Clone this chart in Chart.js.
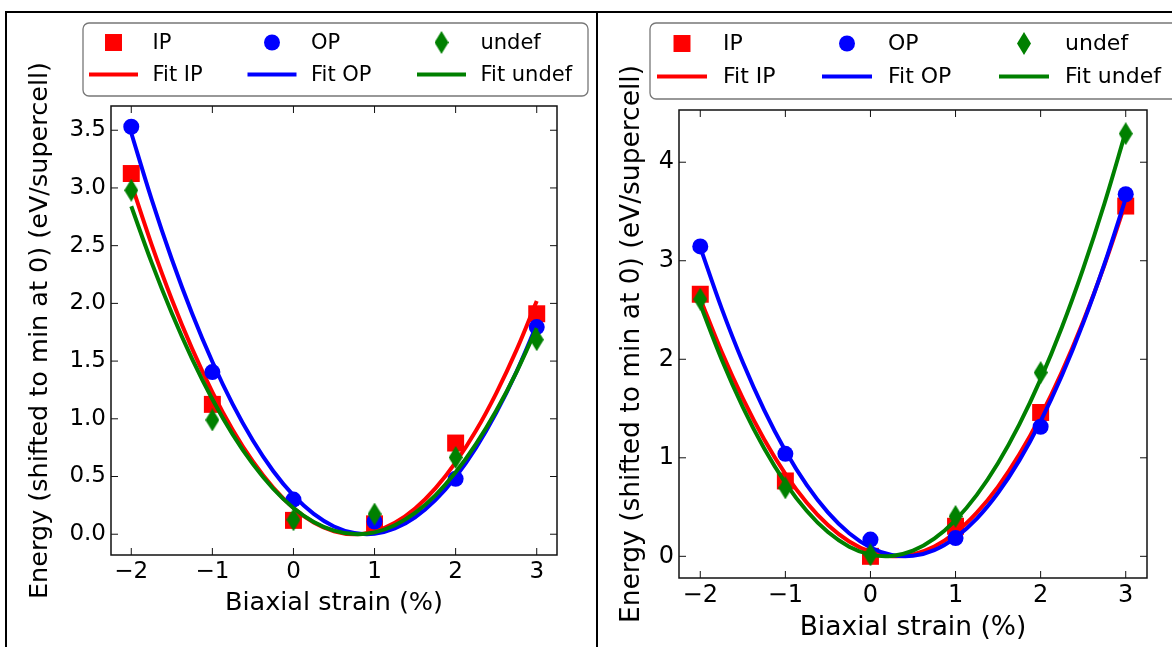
<!DOCTYPE html>
<html>
<head>
<meta charset="utf-8">
<script src="https://cdn.jsdelivr.net/npm/chart.js@4.4.1/dist/chart.umd.min.js"></script>
<style>
  html, body { margin: 0; padding: 0; background: #fff; }
  body { width: 1172px; height: 647px; position: relative; overflow: hidden; }
  .rule { position: absolute; background: #000; }
  .panel { position: absolute; top: 14px; height: 633px; }
  #left { left: 6px; width: 590px; }
  #right { left: 598px; width: 574px; }
</style>
</head>
<body>
<div class="rule" style="left:5px;top:11px;width:1167px;height:1.5px"></div>
<div class="rule" style="left:5px;top:11px;width:1.5px;height:636px"></div>
<div class="rule" style="left:596px;top:11px;width:1.5px;height:636px"></div>
<div class="panel" id="left"><canvas id="chartLeft" width="590" height="633"></canvas></div>
<div class="panel" id="right"><canvas id="chartRight" width="574" height="633"></canvas></div>
<script>
// measured points
const strain = [-2, -1, 0, 1, 2, 3];
const xTicks = [-2, -1, 0, 1, 2, 3];

const leftIP    = [3.125, 1.125, 0.12, 0.09, 0.79, 1.91];
const leftOP    = [3.53, 1.405, 0.30, 0.11, 0.48, 1.795];
const leftUndef = [2.98, 0.99, 0.125, 0.175, 0.665, 1.685];
const leftYTicks = [0, 0.5, 1, 1.5, 2, 2.5, 3, 3.5];

const rightIP    = [2.66, 0.765, 0.0, 0.305, 1.46, 3.555];
const rightOP    = [3.145, 1.04, 0.17, 0.185, 1.315, 3.675];
const rightUndef = [2.61, 0.695, 0.015, 0.405, 1.865, 4.29];
const rightYTicks = [0, 1, 2, 3, 4];

// fitted curves
const fitStrain = [-2, -1.75, -1.5, -1.25, -1, -0.75, -0.5, -0.25, 0, 0.25, 0.5,
                   0.75, 1, 1.25, 1.5, 1.75, 2, 2.25, 2.5, 2.75, 3];
const leftFitIP    = [3.037, 2.511, 2.034, 1.608, 1.232, 0.906, 0.630, 0.404, 0.228, 0.102, 0.026,
                      0.000, 0.024, 0.099, 0.223, 0.397, 0.622, 0.896, 1.221, 1.595, 2.020];
const leftFitOP    = [3.476, 2.903, 2.382, 1.912, 1.494, 1.127, 0.812, 0.548, 0.336, 0.176, 0.067,
                      0.010, 0.004, 0.050, 0.147, 0.296, 0.496, 0.748, 1.052, 1.407, 1.814];
const leftFitUndef = [2.841, 2.355, 1.914, 1.519, 1.169, 0.865, 0.607, 0.394, 0.227, 0.106, 0.031,
                      0.001, 0.016, 0.078, 0.185, 0.337, 0.536, 0.780, 1.069, 1.405, 1.786];
const rightFitIP    = [2.615, 2.078, 1.603, 1.189, 0.837, 0.546, 0.317, 0.150, 0.045, 0.001, 0.019,
                       0.099, 0.240, 0.444, 0.708, 1.035, 1.423, 1.873, 2.384, 2.957, 3.592];
const rightFitOP    = [3.136, 2.519, 1.969, 1.487, 1.072, 0.725, 0.446, 0.234, 0.090, 0.014, 0.005,
                       0.063, 0.190, 0.383, 0.645, 0.974, 1.371, 1.835, 2.367, 2.967, 3.634];
const rightFitUndef = [2.555, 2.001, 1.515, 1.097, 0.746, 0.462, 0.246, 0.098, 0.017, 0.003, 0.057,
                       0.179, 0.368, 0.624, 0.948, 1.340, 1.799, 2.325, 2.920, 3.581, 4.310];

const FONT = "'DejaVu Sans', sans-serif";
Chart.defaults.font.family = FONT;
Chart.defaults.color = '#000';

function thinDiamond(w, h, color) {
  const c = document.createElement('canvas');
  c.width = w; c.height = h;
  const g = c.getContext('2d');
  g.fillStyle = color;
  g.beginPath();
  g.moveTo(w / 2, 0); g.lineTo(w, h / 2); g.lineTo(w / 2, h); g.lineTo(0, h / 2);
  g.closePath(); g.fill();
  return c;
}
const diamond = thinDiamond(14, 23, '#008000');

function minus(v) { return v < 0 ? '\u2212' + Math.abs(v) : String(v); }

function buildDatasets(ip, op, undef, fIP, fOP, fUndef) {
  const pts = ys => strain.map((x, i) => ({ x: x, y: ys[i] }));
  const fit = ys => fitStrain.map((x, i) => ({ x: x, y: ys[i] }));
  const marker = (label, ys, color, style, r, order) => ({
    label: label, data: pts(ys), showLine: false, pointStyle: style, pointRadius: r,
    pointBackgroundColor: color, pointBorderWidth: 0, order: order
  });
  const line = (label, ys, color, order) => ({
    label: label, data: fit(ys), borderColor: color, borderWidth: 4, pointRadius: 0,
    tension: 0.35, order: order
  });
  return [
    marker('IP', ip, '#ff0000', 'rect', 12, 6),
    line('Fit IP', fIP, '#ff0000', 5),
    marker('OP', op, '#0000ff', 'circle', 8, 4),
    line('Fit OP', fOP, '#0000ff', 3),
    marker('undef', undef, '#008000', diamond, 8, 2),
    line('Fit undef', fUndef, '#008000', 1)
  ];
}

// inward ticks on all four sides and the axes frame
const frameTicks = {
  id: 'frameTicks',
  afterDraw(chart) {
    const { ctx, chartArea: { left, right, top, bottom }, scales: { x, y } } = chart;
    ctx.save();
    ctx.strokeStyle = '#111';
    ctx.lineWidth = 1;
    ctx.beginPath();
    x.ticks.forEach(t => {
      const px = x.getPixelForValue(t.value);
      ctx.moveTo(px, bottom); ctx.lineTo(px, bottom - 7);
      ctx.moveTo(px, top); ctx.lineTo(px, top + 7);
    });
    y.ticks.forEach(t => {
      const py = y.getPixelForValue(t.value);
      ctx.moveTo(left, py); ctx.lineTo(left + 7, py);
      ctx.moveTo(right, py); ctx.lineTo(right - 7, py);
    });
    ctx.stroke();
    ctx.lineWidth = 1.5;
    ctx.strokeRect(left, top, right - left, bottom - top);
    ctx.restore();
  }
};

// matplotlib-like legend: 3 columns, markers on row 1, fit lines on row 2
function makeLegend(cfg) {
  return {
    id: 'mplLegend',
    afterDraw(chart) {
      const ctx = chart.ctx;
      const [x0, y0, x1, y1] = cfg.box;
      ctx.save();
      ctx.beginPath();
      ctx.roundRect(x0, y0, x1 - x0, y1 - y0, 6);
      ctx.fillStyle = '#fff';
      ctx.fill();
      ctx.lineWidth = 1.3;
      ctx.strokeStyle = '#777';
      ctx.stroke();
      chart.data.datasets.forEach((ds, i) => {
        const cx = cfg.cols[Math.floor(i / 2)];
        const cy = cfg.rows[i % 2];
        if (ds.showLine === false) {
          const st = ds.pointStyle;
          ctx.fillStyle = ds.pointBackgroundColor;
          if (st === 'rect') {
            const s = ds.pointRadius * Math.SQRT1_2;
            ctx.fillRect(cx - s, cy - s, 2 * s, 2 * s);
          } else if (st === 'circle') {
            ctx.beginPath(); ctx.arc(cx, cy, ds.pointRadius, 0, Math.PI * 2); ctx.fill();
          } else {
            ctx.drawImage(st, cx - st.width / 2, cy - st.height / 2);
          }
        } else {
          ctx.strokeStyle = ds.borderColor;
          ctx.lineWidth = ds.borderWidth;
          ctx.beginPath();
          ctx.moveTo(cx - cfg.half, cy); ctx.lineTo(cx + cfg.half, cy);
          ctx.stroke();
        }
        ctx.fillStyle = '#000';
        ctx.font = cfg.font + 'px ' + FONT;
        ctx.textAlign = 'left';
        ctx.textBaseline = 'middle';
        ctx.fillText(ds.label, cx + cfg.textDx, cy + 1);
      });
      ctx.restore();
    }
  };
}

function makeChart(id, datasets, p) {
  return new Chart(document.getElementById(id), {
    type: 'line',
    data: { datasets: datasets },
    options: {
      responsive: false,
      animation: false,
      layout: { padding: p.padding },
      plugins: { legend: { display: false }, tooltip: { enabled: false } },
      scales: {
        x: {
          type: 'linear', min: -2.25, max: 3.25,
          afterBuildTicks: s => { s.ticks = xTicks.map(v => ({ value: v })); },
          afterFit: s => { s.height = p.xHeight; },
          grid: { display: false, drawTicks: false },
          border: { display: false },
          ticks: { autoSkip: false, maxRotation: 0, padding: 3, font: { size: p.tickSize }, callback: v => minus(v) },
          title: { display: true, text: 'Biaxial strain (%)', padding: 0,
                   font: { size: p.titleSize, lineHeight: 1 } }
        },
        y: {
          type: 'linear', min: p.yMin, max: p.yMax,
          afterBuildTicks: s => { s.ticks = p.yTicks.map(v => ({ value: v })); },
          afterFit: s => { s.width = p.yWidth; },
          grid: { display: false, drawTicks: false },
          border: { display: false },
          ticks: { autoSkip: false, padding: 5, font: { size: p.tickSize }, callback: p.yFormat },
          title: { display: true, text: 'Energy (shifted to min at 0) (eV/supercell)',
                   padding: { top: p.yTitlePad, bottom: 0 },
                   font: { size: p.titleSize, lineHeight: 1 } }
        }
      }
    },
    plugins: [frameTicks, makeLegend(p.legend)]
  });
}

makeChart('chartLeft',
  buildDatasets(leftIP, leftOP, leftUndef, leftFitIP, leftFitOP, leftFitUndef), {
    padding: { left: 0, top: 92, right: 39, bottom: 31 },
    xHeight: 61, yWidth: 105, yTitlePad: 21.75,
    tickSize: 23, titleSize: 25.5,
    yMin: -0.18, yMax: 3.71, yTicks: leftYTicks, yFormat: v => v.toFixed(1),
    legend: { box: [77, 9, 582, 82], cols: [107.5, 266, 435.5], rows: [28.5, 60.5],
              half: 24.5, textDx: 39, font: 21 }
  });

makeChart('chartRight',
  buildDatasets(rightIP, rightOP, rightUndef, rightFitIP, rightFitOP, rightFitUndef), {
    padding: { left: 0, top: 96, right: 25, bottom: 6 },
    xHeight: 63, yWidth: 81, yTitlePad: 20.75,
    tickSize: 24, titleSize: 26.5,
    yMin: -0.22, yMax: 4.53, yTicks: rightYTicks, yFormat: v => String(v),
    legend: { box: [52, 9, 590, 85], cols: [84, 249, 426], rows: [29.5, 62.5],
              half: 25, textDx: 41, font: 22 }
  });
</script>
</body>
</html>
